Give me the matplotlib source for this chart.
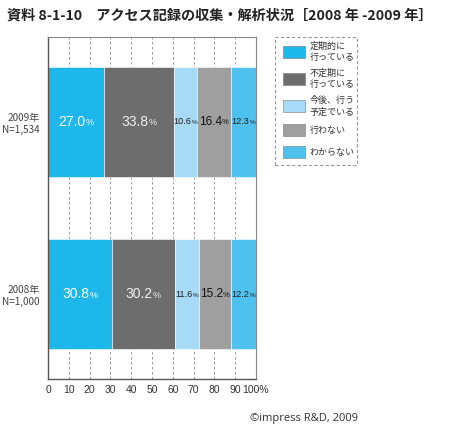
import matplotlib
matplotlib.use("Agg")
import matplotlib.pyplot as plt
from matplotlib.patches import Rectangle
from matplotlib.transforms import offset_copy

plt.rcParams['font.family'] = ['Noto Sans CJK JP', 'DejaVu Sans']

years = ["2008年\nN=1,000", "2009年\nN=1,534"]
categories = ["定期的に\n行っている", "不定期に\n行っている", "今後、行う\n予定でいる", "行わない", "わからない"]
values_2008 = [30.8, 30.2, 11.6, 15.2, 12.2]
values_2009 = [27.0, 33.8, 10.6, 16.4, 12.3]
series = [values_2008, values_2009]
xticklabels = ["0", "10", "20", "30", "40", "50", "60", "70", "80", "90", "100%"]

colors = ["#1db7ec", "#6d6d6d", "#a6daf7", "#9f9f9f", "#4fc1ee"]
text_colors = ["white", "#eeeeee", "#222222", "#111111", "#222222"]

fig = plt.figure(figsize=(4.5, 4.32), dpi=100)
ax = fig.add_axes([48/450, 1-379/432, 208/450, 342/432])

for yi, vals in enumerate(series):
    left = 0
    for ci, v in enumerate(vals):
        ax.barh(yi, v, left=left, height=0.64, color=colors[ci],
                edgecolor="white", linewidth=0.4, zorder=2)
        left += v

ax.set_xlim(0, 100)
ax.set_ylim(-0.494, 1.494)
ax.set_xticks(range(0, 101, 10))
ax.set_xticklabels(xticklabels, fontsize=7.5, color="#333333",
                   family=['Liberation Sans', 'DejaVu Sans'])
ax.tick_params(axis='x', length=0, pad=4)
ax.set_yticks([0, 1])
ax.set_yticklabels(years, fontsize=7.2, color="#444444", linespacing=1.2)
ax.tick_params(axis='y', length=0, pad=6)
for lbl in ax.get_yticklabels():
    lbl.set_horizontalalignment('right')
ax.grid(axis='x', linestyle=(0, (3, 3)), color="#888888", linewidth=0.6, zorder=1)
for side in ['left', 'bottom']:
    ax.spines[side].set_color("#555555")
    ax.spines[side].set_linewidth(1.0)
for side in ['top', 'right']:
    ax.spines[side].set_color("#888888")
    ax.spines[side].set_linewidth(0.8)

# value labels: number + small %
fig.canvas.draw()
renderer = fig.canvas.get_renderer()
for yi, vals in enumerate(series):
    left = 0
    for ci, v in enumerate(vals):
        cx = left + v / 2
        if v >= 20:
            fs_num, fs_pct, fam = 10, 6.5, ['Liberation Sans', 'DejaVu Sans']
        elif v >= 14:
            fs_num, fs_pct, fam = 8.6, 5.5, ['Liberation Sans', 'DejaVu Sans']
        else:
            fs_num, fs_pct, fam = 6.6, 4.6, ['Liberation Sans Narrow', 'Liberation Sans']
        num = ax.text(cx, yi, f"{v:.1f}", fontsize=fs_num, color=text_colors[ci],
                      ha='left', va='center', zorder=3, family=fam)
        pct = ax.text(cx, yi, "%", fontsize=fs_pct, color=text_colors[ci],
                      ha='left', va='center', zorder=3, family=fam)
        bn = num.get_window_extent(renderer)
        bp = pct.get_window_extent(renderer)
        total = bn.width + bp.width
        num.set_transform(offset_copy(ax.transData, fig=fig, x=-total/2, y=0, units='dots'))
        pct.set_transform(offset_copy(ax.transData, fig=fig, x=-total/2 + bn.width, y=-1, units='dots'))
        left += v

# title
fig.text(7/450, 1-16/432, "資料 8-1-10　アクセス記録の収集・解析状況［2008 年 -2009 年］",
         fontsize=10.2, fontweight='bold', color="#222222", ha='left', va='center')

# legend box
lx0, ly0, lx1, ly1 = 275, 37, 357, 165
fig.patches.append(Rectangle((lx0/450, 1-ly1/432), (lx1-lx0)/450, (ly1-ly0)/432,
                             transform=fig.transFigure, fill=False,
                             edgecolor="#999999", linewidth=0.8,
                             linestyle=(0, (3, 2))))
patch_y = [52, 79, 106, 130, 152]
for ci, cat in enumerate(categories):
    py = patch_y[ci]
    fig.patches.append(Rectangle((283/450, 1-(py+6)/432), 22/450, 12/432,
                                 transform=fig.transFigure, facecolor=colors[ci],
                                 edgecolor="#777777", linewidth=0.4))
    fig.text(310/450, 1-py/432, cat, fontsize=6.5, color="#333333",
             ha='left', va='center', linespacing=1.35)

fig.text(250/450, 1-419/432, "©impress R&D, 2009", fontsize=8, color="#333333",
         ha='left', va='center', family=['Open Sans', 'DejaVu Sans'])

fig.savefig("out.png", dpi=100)
